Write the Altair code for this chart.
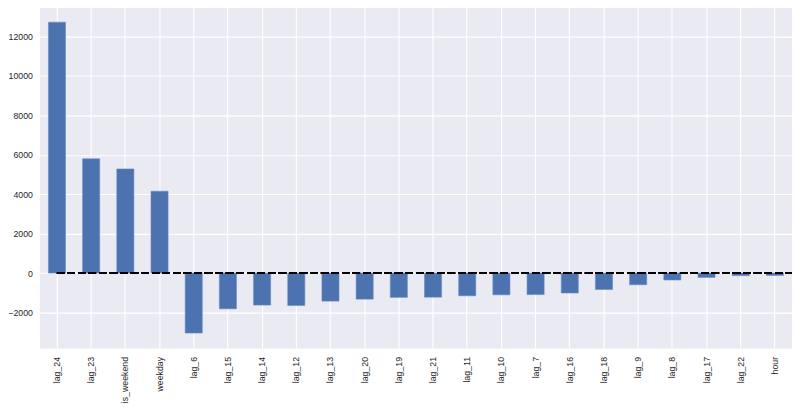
import altair as alt
import pandas as pd

features = ["lag_24", "lag_23", "is_weekend", "weekday", "lag_6", "lag_15", "lag_14",
            "lag_12", "lag_13", "lag_20", "lag_19", "lag_21", "lag_11", "lag_10", "lag_7",
            "lag_16", "lag_18", "lag_9", "lag_8", "lag_17", "lag_22", "hour"]
coefs = [12720, 5790, 5280, 4150, -3040, -1810, -1620,
         -1640, -1420, -1320, -1230, -1220, -1150, -1100, -1090,
         -1010, -830, -590, -350, -220, -130, -120]

df = pd.DataFrame({"feature": features, "coef": coefs})

FONT = "Liberation Sans"
W, H = 755, 344

xscale = alt.Scale(domain=features, paddingInner=0.5, paddingOuter=0.25)
yscale = alt.Scale(domain=[-3820, 13550], nice=False, zero=False)

bars = alt.Chart(df).mark_bar(color="#4C72B0", stroke="#6A8BC3", strokeWidth=0.6).encode(
    x=alt.X("feature:N", sort=features, scale=xscale, title=None,
            axis=alt.Axis(labelAngle=270, labelAlign="right", labelBaseline="middle",
                          labelPadding=8, tickSize=0, domain=False, grid=True,
                          bandPosition=0.5, gridColor="white", gridWidth=1.1,
                          labelFont=FONT, labelFontSize=8.8, labelColor="#262626")),
    y=alt.Y("coef:Q", scale=yscale, title=None,
            axis=alt.Axis(values=[-2000, 0, 2000, 4000, 6000, 8000, 10000, 12000],
                          format="d", tickSize=0, domain=False, labelPadding=7.5,
                          gridColor="white", gridWidth=1.1,
                          labelFont=FONT, labelFontSize=8.8, labelColor="#262626")),
)

zero_line = alt.Chart(df).mark_rule(color="black", strokeWidth=2, strokeDash=[7.4, 3.2]).encode(
    x=alt.X(datum="lag_24", scale=xscale, bandPosition=0.5),
    x2=alt.value({"expr": "width"}),
    y=alt.Y(datum=0, scale=yscale),
)

chart = alt.layer(bars, zero_line).properties(
    width=W, height=H,
    autosize=alt.AutoSizeParams(type="none"),
    padding={"left": 32, "top": -3, "right": 0, "bottom": 60},
    background="white",
).configure_view(fill="#EAEAF2", stroke=None)

chart.save("out.html", embed_options={"renderer": "svg", "actions": False})
